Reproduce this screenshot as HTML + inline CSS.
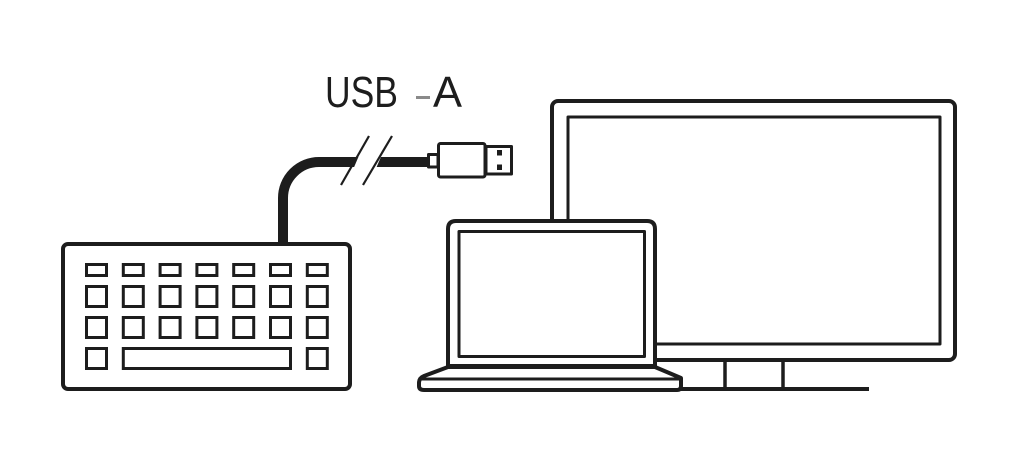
<!DOCTYPE html>
<html>
<head>
<meta charset="utf-8">
<style>
  html, body { margin: 0; padding: 0; background: #ffffff; }
  body { width: 1036px; height: 464px; overflow: hidden; }
  svg { display: block; }
</style>
</head>
<body>
<svg width="1036" height="464" viewBox="0 0 1036 464" xmlns="http://www.w3.org/2000/svg">
  <rect x="0" y="0" width="1036" height="464" fill="#ffffff"/>

  <!-- Label -->
  <text x="325" y="107" font-family="Liberation Sans, sans-serif" font-size="44" fill="#1d1d1d" textLength="73" lengthAdjust="spacingAndGlyphs">USB</text>
  <rect x="416" y="96" width="14" height="3" fill="#8a8a8a"/>
  <text x="433" y="107" font-family="Liberation Sans, sans-serif" font-size="44" fill="#1d1d1d" textLength="29" lengthAdjust="spacingAndGlyphs">A</text>

  <g fill="none" stroke="#1d1d1d" stroke-linejoin="round">
    <!-- Monitor -->
    <rect x="552" y="101" width="403" height="259" rx="6" stroke-width="4" fill="#ffffff"/>
    <rect x="568" y="117" width="372" height="227" stroke-width="3"/>
    <line x1="725" y1="360" x2="725" y2="389" stroke-width="3.5"/>
    <line x1="783" y1="360" x2="783" y2="389" stroke-width="3.5"/>
    <line x1="670" y1="389" x2="869" y2="389" stroke-width="4"/>

    <!-- Laptop lid -->
    <path d="M448,366 V229 Q448,221 456,221 H647 Q655,221 655,229 V366 Z" stroke-width="4" fill="#ffffff"/>
    <rect x="459" y="231.5" width="185.5" height="125" stroke-width="3"/>
    <!-- Laptop base -->
    <path d="M448,367 L424,376 Q419,378 419,383 L419,386 Q419,390 424,390 L677,390 Q681,390 681,386 L681,378 L655,367 Z" stroke-width="4" fill="#ffffff"/>
    <line x1="421" y1="379" x2="681" y2="379" stroke-width="3"/>
    <line x1="448" y1="367" x2="655" y2="367" stroke-width="4"/>

    <!-- Keyboard -->
    <rect x="63" y="244" width="287" height="145" rx="5" stroke-width="4" fill="#ffffff"/>
  </g>

  <!-- Keys -->
  <g fill="none" stroke="#1d1d1d" stroke-width="3">
    <!-- Row 1 -->
    <rect x="86.5" y="264.5" width="20" height="11"/>
    <rect x="123.3" y="264.5" width="20" height="11"/>
    <rect x="160.1" y="264.5" width="20" height="11"/>
    <rect x="196.9" y="264.5" width="20" height="11"/>
    <rect x="233.7" y="264.5" width="20" height="11"/>
    <rect x="270.5" y="264.5" width="20" height="11"/>
    <rect x="307.3" y="264.5" width="20" height="11"/>
    <!-- Row 2 -->
    <rect x="86.5" y="286.5" width="20" height="20"/>
    <rect x="123.3" y="286.5" width="20" height="20"/>
    <rect x="160.1" y="286.5" width="20" height="20"/>
    <rect x="196.9" y="286.5" width="20" height="20"/>
    <rect x="233.7" y="286.5" width="20" height="20"/>
    <rect x="270.5" y="286.5" width="20" height="20"/>
    <rect x="307.3" y="286.5" width="20" height="20"/>
    <!-- Row 3 -->
    <rect x="86.5" y="317.5" width="20" height="20"/>
    <rect x="123.3" y="317.5" width="20" height="20"/>
    <rect x="160.1" y="317.5" width="20" height="20"/>
    <rect x="196.9" y="317.5" width="20" height="20"/>
    <rect x="233.7" y="317.5" width="20" height="20"/>
    <rect x="270.5" y="317.5" width="20" height="20"/>
    <rect x="307.3" y="317.5" width="20" height="20"/>
    <!-- Row 4 -->
    <rect x="86.5" y="348.5" width="20" height="20"/>
    <rect x="123.3" y="348.5" width="167.2" height="20"/>
    <rect x="307.3" y="348.5" width="20" height="20"/>
  </g>

  <!-- Cable -->
  <path d="M283,244 V198 A36,36 0 0 1 319,162 H429" fill="none" stroke="#1d1d1d" stroke-width="10"/>
  <!-- Break gap -->
  <polygon points="360.5,152 383,152 374.5,172 352,172" fill="#ffffff"/>
  <g stroke="#1d1d1d" stroke-width="2.2" stroke-linecap="butt">
    <line x1="369" y1="136" x2="341" y2="185"/>
    <line x1="392" y1="136" x2="363" y2="185"/>
  </g>

  <!-- USB plug -->
  <g fill="#ffffff" stroke="#1d1d1d" stroke-width="3" stroke-linejoin="round">
    <rect x="428.5" y="154.5" width="9.5" height="12.5"/>
    <rect x="438.5" y="143.5" width="46.5" height="33.5" rx="2"/>
    <rect x="486" y="146.5" width="25.5" height="27.5"/>
  </g>
  <rect x="497" y="150" width="5" height="5.5" fill="#1d1d1d"/>
  <rect x="497" y="164.5" width="5" height="5.5" fill="#1d1d1d"/>
</svg>
</body>
</html>
